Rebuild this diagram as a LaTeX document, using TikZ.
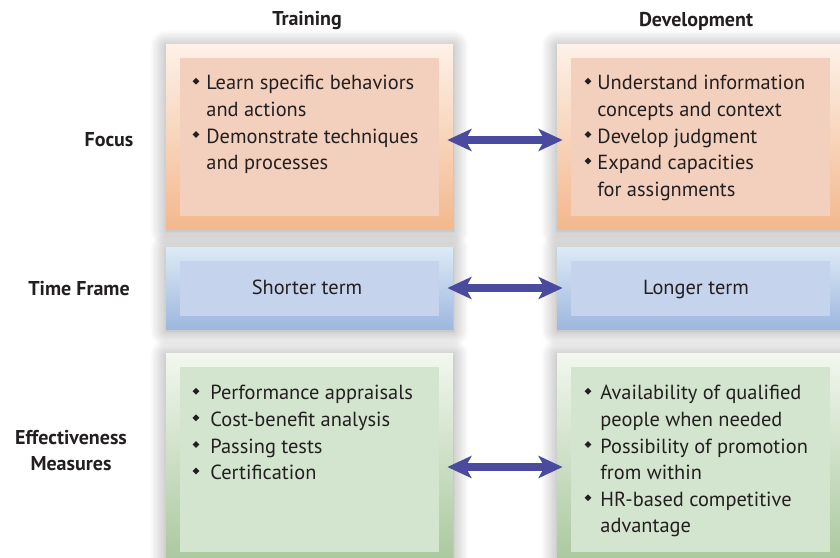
\documentclass[tikz,border=0pt]{standalone}
\usepackage{amssymb}
\usepackage{fontspec}
\setmainfont{PT Sans}
\usetikzlibrary{positioning, arrows.meta, shadows.blur}

\definecolor{txt}{HTML}{231F20}
\definecolor{orTop}{HTML}{FDF1E8}
\definecolor{orBot}{HTML}{F3B88E}
\definecolor{orIn}{HTML}{F3CFBD}
\definecolor{blTop}{HTML}{DDEAF6}
\definecolor{blBot}{HTML}{9DB7DE}
\definecolor{blIn}{HTML}{C5D3EC}
\definecolor{grTop}{HTML}{F2F7EF}
\definecolor{grBot}{HTML}{A8C79C}
\definecolor{grIn}{HTML}{D3E4CF}
\definecolor{arrc}{HTML}{4A4A9E}

\newcommand{\bul}[1][7.5pt]{\makebox[#1][l]{\hspace{0.6pt}\raisebox{2.6pt}{\rotatebox{45}{\rule{2.4pt}{2.4pt}}}}}
\newcommand{\bulind}[1][7.5pt]{\hspace*{#1}}

\begin{document}
\begin{tikzpicture}[
    x=0.5pt, y=-0.5pt,
    outerbox/.style={rectangle, inner sep=0pt, minimum width=143.5pt, top color=#1Top, bottom color=#1Bot,
        blur shadow={shadow xshift=0pt, shadow yshift=-1pt, shadow blur radius=8pt, shadow blur steps=12,
        shadow opacity=40, shadow scale=1.0}},
    innerbox/.style={rectangle, inner sep=0pt, minimum width=129.5pt, fill=#1In},
    itemtext/.style={anchor=north west, inner sep=0pt, align=left, text=txt, font=\fontsize{10.2}{13.3}\selectfont},
    catlabel/.style={font=\fontsize{10}{13}\selectfont\bfseries, text=txt, align=center},
    termtext/.style={font=\fontsize{10.2}{13}\selectfont, text=txt, text height=7.3pt, text depth=2.2pt, inner sep=0pt},
    biarr/.style={{Stealth[length=12pt, width=11pt, inset=3pt]}-{Stealth[length=12pt, width=11pt, inset=3pt]},
        line width=3.8pt, draw=arrc, shorten <=-3pt, shorten >=-3pt},
]
\useasboundingbox (0,0) rectangle (840,557);

% column and row headings
\node[catlabel] (train) at (307,21) {Training};
\node[catlabel] (devel) at (696,21) {Development};
\node[catlabel] (focus) at (109,140) {Focus};
\node[catlabel] (time) at (79,289) {Time Frame};
\node[catlabel] (eff) at (71,451) {Effectiveness\\Measures};

% outer boxes
\node[outerbox=or, minimum height=92.5pt] (focusT) at (309.5,136.5) {};
\node[outerbox=or, minimum height=92.5pt] (focusD) at (700.5,136.5) {};
\node[outerbox=bl, minimum height=41pt] (timeT) at (309.5,288) {};
\node[outerbox=bl, minimum height=41pt] (timeD) at (700.5,288) {};
\node[outerbox=gr, minimum height=106.5pt] (effT) at (309.5,459.5) {};
\node[outerbox=gr, minimum height=106.5pt] (effD) at (700.5,459.5) {};

% inner boxes
\node[innerbox=or, minimum height=79pt] (focusTin) at (focusT) {};
\node[innerbox=or, minimum height=79pt] (focusDin) at (focusD) {};
\node[innerbox=bl, minimum height=27.5pt] (timeTin) at (timeT) {};
\node[innerbox=bl, minimum height=27.5pt] (timeDin) at (timeD) {};
\node[innerbox=gr, minimum height=92.5pt] (effTin) at (effT) {};
\node[innerbox=gr, minimum height=92.5pt] (effDin) at (effD) {};

% texts
\node[itemtext] (focusTtxt) at (191,75) {\bul Learn specific behaviors\\\bulind and actions\\
    \bul Demonstrate techniques\\\bulind and processes};
\node[itemtext] (focusDtxt) at (583,75) {\bul[7pt]Understand information\\\bulind[7pt]concepts and context\\
    \bul[7pt]Develop judgment\\\bul[7pt]Expand capacities\\\bulind[7pt]for assignments};
\node[termtext] (timeTtxt) at (307,289) {Shorter term};
\node[termtext] (timeDtxt) at (696,289) {Longer term};
\node[itemtext] (effTtxt) at (191,385) {\bul[9.5pt]Performance appraisals\\\bul[9.5pt]Cost-benefit analysis\\
    \bul[9.5pt]Passing tests\\\bul[9.5pt]Certification};
\node[itemtext] (effDtxt) at (583,385) {\bul[8.5pt]Availability of qualified\\\bulind[8.5pt]people when needed\\
    \bul[8.5pt]Possibility of promotion\\\bulind[8.5pt]from within\\
    \bul[8.5pt]HR-based competitive\\\bulind[8.5pt]advantage};

% arrows
\draw[biarr] ([yshift=-1.75pt]focusT.east) -- ([yshift=-1.75pt]focusD.west);
\draw[biarr] (timeT.east) -- (timeD.west);
\draw[biarr] ([yshift=-3.75pt]effT.east) -- ([yshift=-3.75pt]effD.west);

\end{tikzpicture}
\end{document}
